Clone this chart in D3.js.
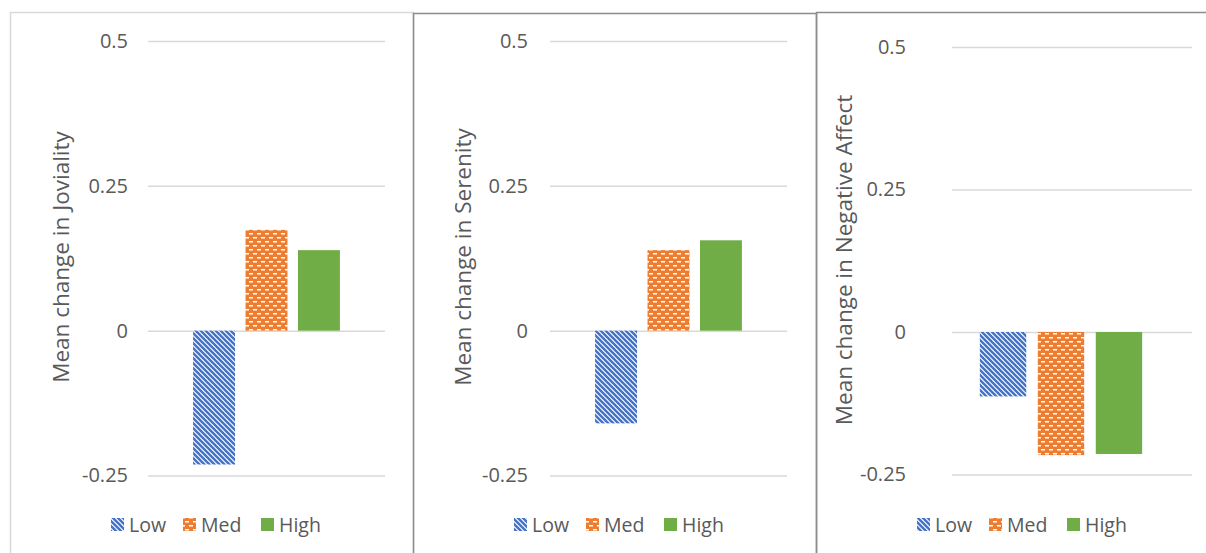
<!DOCTYPE html>
<html>
<head>
<meta charset="utf-8">
<script src="https://cdn.jsdelivr.net/npm/d3@7"></script>
<style>
  html, body { margin: 0; padding: 0; background: #ffffff; }
  svg { display: block; }
  text { font-family: "Open Sans", "Noto Sans", sans-serif; fill: #595959; }
</style>
</head>
<body>
<svg id="chart" width="1206" height="553"></svg>
<script>
// Change in affect by group level
const groups = ["Low", "Med", "High"];
const joviality = [-0.231, 0.174, 0.139];
const serenity = [-0.160, 0.139, 0.156];
const negativeAffect = [-0.113, -0.216, -0.214];
const tickValues = [-0.25, 0, 0.25, 0.5];
const tickLabels = ["-0.25", "0", "0.25", "0.5"];
const axisTitles = ["Mean change in Joviality", "Mean change in Serenity", "Mean change in Negative Affect"];

// Panel geometry
const panels = [
  { values: joviality, title: axisTitles[0], left: 10, top: 12, width: 403, border: "#d9d9d9",
    gridX: [148, 385], barRange: [148, 385], tickPad: 20, y: [475.5, 41], titleX: 60, titleY: 257 },
  { values: serenity, title: axisTitles[1], left: 413, top: 13, width: 403, border: "#8c8c8c",
    gridX: [550, 787], barRange: [550, 787], tickPad: 22, y: [475.5, 41], titleX: 462, titleY: 257 },
  { values: negativeAffect, title: axisTitles[2], left: 816, top: 12, width: 420, border: "#8c8c8c",
    gridX: [952, 1192], barRange: [930, 1192], tickPad: 46, y: [474.5, 47], titleX: 843, titleY: 260 }
];

const colors = { Low: "#4472C4", Med: "#ED7D31", High: "#70AD47" };

const svg = d3.select("#chart");
const defs = svg.append("defs");

// Wide downward diagonal stripes
const stripe = defs.append("pattern")
  .attr("id", "pat-Low").attr("patternUnits", "userSpaceOnUse")
  .attr("width", 5).attr("height", 5);
stripe.append("rect").attr("width", 5).attr("height", 5).attr("fill", "#ffffff");
stripe.append("path")
  .attr("d", "M-1,-1 L6,6 M-1,4 L1,6 M4,-1 L6,1")
  .attr("stroke", colors.Low).attr("stroke-width", 2.4).attr("fill", "none");

// Staggered dashes on orange
const dash = defs.append("pattern")
  .attr("id", "pat-Med").attr("patternUnits", "userSpaceOnUse")
  .attr("width", 8).attr("height", 8);
dash.append("rect").attr("width", 8).attr("height", 8).attr("fill", colors.Med);
dash.append("rect").attr("x", 1).attr("y", 1).attr("width", 4).attr("height", 1.5).attr("fill", "#ffffff");
dash.append("rect").attr("x", 5).attr("y", 5).attr("width", 4).attr("height", 1.5).attr("fill", "#ffffff");
dash.append("rect").attr("x", -3).attr("y", 5).attr("width", 4).attr("height", 1.5).attr("fill", "#ffffff");

const fillFor = g => g === "High" ? colors.High : `url(#pat-${g})`;

panels.forEach(p => {
  const g = svg.append("g");

  // Panel frame
  g.append("rect")
    .attr("x", p.left + 0.5).attr("y", p.top + 0.5)
    .attr("width", p.width).attr("height", 600)
    .attr("fill", "none").attr("stroke", p.border).attr("stroke-width", 1.5);

  const y = d3.scaleLinear().domain([-0.25, 0.5]).range(p.y);
  const x = d3.scaleBand().domain(groups).range(p.barRange)
    .paddingInner(0.2).paddingOuter(0.86).align(0.5);

  // Y axis with gridlines
  const axis = d3.axisLeft(y)
    .tickValues(tickValues)
    .tickFormat((d, i) => tickLabels[i])
    .tickSize(-(p.gridX[1] - p.gridX[0]))
    .tickPadding(p.tickPad);
  const ag = g.append("g")
    .attr("transform", `translate(${p.gridX[0]},0)`)
    .call(axis);
  ag.select(".domain").remove();
  ag.selectAll(".tick line").attr("stroke", "#d9d9d9").attr("stroke-width", 1.5);
  ag.selectAll(".tick text")
    .attr("font-size", 20).attr("fill", "#595959")
    .attr("font-family", "Open Sans");

  // Bars
  g.selectAll("rect.bar")
    .data(groups.map((k, i) => ({ key: k, value: p.values[i] })))
    .join("rect")
    .attr("class", "bar")
    .attr("x", d => x(d.key))
    .attr("width", x.bandwidth())
    .attr("y", d => y(Math.max(0, d.value)))
    .attr("height", d => Math.abs(y(d.value) - y(0)))
    .attr("fill", d => fillFor(d.key));

  // Axis title
  g.append("text")
    .attr("transform", `translate(${p.titleX},${p.titleY}) rotate(-90)`)
    .attr("text-anchor", "middle")
    .attr("dominant-baseline", "central")
    .attr("font-size", 22.5)
    .text(p.title);

  // Legend
  const offsets = [101, 173, 251];
  groups.forEach((k, i) => {
    const lx = p.left + offsets[i];
    g.append("rect")
      .attr("x", lx).attr("y", 518).attr("width", 13).attr("height", 13)
      .attr("fill", fillFor(k));
    g.append("text")
      .attr("x", lx + 18).attr("y", 531.5)
      .attr("font-size", 19.5)
      .text(k);
  });
});
</script>
</body>
</html>
